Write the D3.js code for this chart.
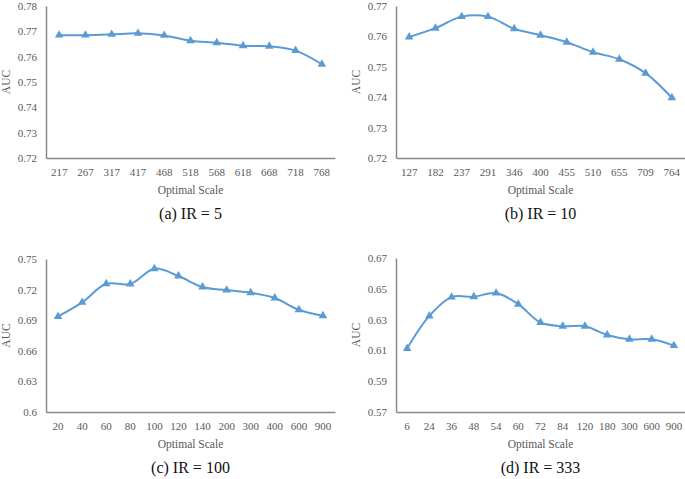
<!DOCTYPE html>
<html><head><meta charset="utf-8">
<script src="https://cdn.jsdelivr.net/npm/d3@7"></script>
<style>body{margin:0;background:#fff}svg{display:block}</style>
</head><body>
<svg id="c" width="685" height="479"></svg>
<script>
const catsA = ["217","267","317","417","468","518","568","618","668","718","768"];
const valsA = [0.7685,0.7685,0.7688,0.7692,0.7684,0.7663,0.7655,0.7643,0.7641,0.7624,0.7570];
const ticksA = [0.72,0.73,0.74,0.75,0.76,0.77,0.78];

const catsB = ["127","182","237","291","346","400","455","510","655","709","764"];
const valsB = [0.7598,0.7627,0.7665,0.7665,0.7625,0.7604,0.7581,0.7548,0.7525,0.7479,0.7398];
const ticksB = [0.72,0.73,0.74,0.75,0.76,0.77];

const catsC = ["20","40","60","80","100","120","140","200","300","400","600","900"];
const valsC = [0.6937,0.7075,0.7257,0.7255,0.7405,0.7333,0.7225,0.7195,0.7169,0.7117,0.7002,0.6943];
const ticksC = [0.6,0.63,0.66,0.69,0.72,0.75];

const catsD = ["6","24","36","48","54","60","72","84","120","180","300","600","900"];
const valsD = [0.6113,0.6324,0.6446,0.6448,0.6472,0.6400,0.6281,0.6257,0.6257,0.6200,0.6172,0.6172,0.6131];
const ticksD = [0.57,0.59,0.61,0.63,0.65,0.67];

const captions = ["(a) IR = 5","(b) IR = 10","(c) IR = 100","(d) IR = 333"];

const svg = d3.select("#c");
const font = "'Liberation Serif','Times New Roman',serif";
const txt = "#595959";

const panels = [
  {cats:catsA, vals:valsA, ticks:ticksA, x0:46, x1:335, y0:6, y1:158, lab:5, cap:captions[0], fmt:d3.format(".2f")},
  {cats:catsB, vals:valsB, ticks:ticksB, x0:396, x1:685, y0:6, y1:158, lab:355, cap:captions[1], fmt:d3.format(".2f")},
  {cats:catsC, vals:valsC, ticks:ticksC, x0:46, x1:335, y0:259, y1:412, lab:5, cap:captions[2], fmt:d=>d===0.6?"0.6":d3.format(".2f")(d)},
  {cats:catsD, vals:valsD, ticks:ticksD, x0:396, x1:685, y0:258, y1:412, lab:355, cap:captions[3], fmt:d3.format(".2f")}
];

panels.forEach(p => {
  const g = svg.append("g");
  const x = d3.scaleBand().domain(p.cats).range([p.x0, p.x1]).padding(0);
  const y = d3.scaleLinear().domain([p.ticks[0], p.ticks[p.ticks.length-1]]).range([p.y1, p.y0]);

  const yAx = g.append("g").attr("transform",`translate(${p.x0},0)`)
    .call(d3.axisLeft(y).tickValues(p.ticks).tickFormat(p.fmt).tickSize(0).tickPadding(9));
  yAx.select(".domain").attr("stroke","#888").attr("stroke-width",1.5);
  yAx.selectAll("text").attr("fill",txt).style("font-family",font).style("font-size","11px");

  const xAx = g.append("g").attr("transform",`translate(0,${p.y1})`)
    .call(d3.axisBottom(x).tickSize(0).tickPadding(10));
  xAx.select(".domain").attr("stroke","#888").attr("stroke-width",1.5);
  xAx.selectAll("text").attr("fill",txt).style("font-family",font).style("font-size","11px");

  const line = d3.line().x((d,i)=>x(p.cats[i])+x.bandwidth()/2).y(d=>y(d)).curve(d3.curveCatmullRom.alpha(0.5));
  g.append("path").datum(p.vals).attr("d",line).attr("fill","none").attr("stroke","#5B9BD5").attr("stroke-width",2);
  g.selectAll(".m").data(p.vals).enter().append("path")
    .attr("d", d3.symbol().type(d3.symbolTriangle).size(32))
    .attr("transform",(d,i)=>`translate(${x(p.cats[i])+x.bandwidth()/2},${y(d)})`)
    .attr("fill","#5B9BD5");

  const cx = (p.x0+p.x1)/2;
  g.append("text").attr("x",cx).attr("y",p.y1+32).attr("dy","0.35em").attr("text-anchor","middle")
    .attr("fill",txt).style("font-family",font).style("font-size","11.5px").text("Optimal Scale");
  g.append("text").attr("transform",`translate(${p.lab+1},${(p.y0+p.y1)/2}) rotate(-90)`).attr("dy","0.35em")
    .attr("text-anchor","middle").attr("fill",txt).style("font-family",font).style("font-size","11.5px").text("AUC");
  g.append("text").attr("x",cx).attr("y",p.y1+55).attr("dy","0.35em").attr("text-anchor","middle")
    .attr("fill","#111").style("font-family",font).style("font-size","16px").text(p.cap);
});
</script>
</body></html>
